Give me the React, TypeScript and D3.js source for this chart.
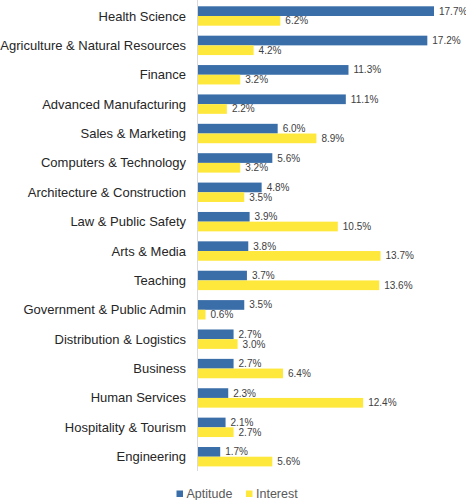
import React from "react";
import * as d3 from "d3";

const categories = [
  "Health Science",
  "Agriculture & Natural Resources",
  "Finance",
  "Advanced Manufacturing",
  "Sales & Marketing",
  "Computers & Technology",
  "Architecture & Construction",
  "Law & Public Safety",
  "Arts & Media",
  "Teaching",
  "Government & Public Admin",
  "Distribution & Logistics",
  "Business",
  "Human Services",
  "Hospitality & Tourism",
  "Engineering",
];
const aptitude = [17.7, 17.2, 11.3, 11.1, 6.0, 5.6, 4.8, 3.9, 3.8, 3.7, 3.5, 2.7, 2.7, 2.3, 2.1, 1.7];
const interest = [6.2, 4.2, 3.2, 2.2, 8.9, 3.2, 3.5, 10.5, 13.7, 13.6, 0.6, 3.0, 6.4, 12.4, 2.7, 5.6];
const seriesNames = ["Aptitude", "Interest"];
const colors = ["#3a6ea9", "#ffe83c"];

const W = 466;
const H = 500;
const axisX = 197.5;

export default function App() {
  const x = d3.scaleLinear().domain([0, 17.7]).range([axisX, 434]);
  const y = d3.scaleBand<string>().domain(categories).range([1.3, 471.4]).paddingInner(0.34).paddingOuter(0.17);
  const sub = d3.scaleBand<string>().domain(seriesNames).range([0, y.bandwidth()]);
  const font = "'Liberation Sans', Arial, sans-serif";
  return (
    <svg width={W} height={H} style={{ position: "absolute", left: 0, top: 0, background: "#fff" }} fontFamily={font}>
      {categories.map((c, i) => {
        const y0 = y(c)!;
        const vals = [aptitude[i], interest[i]];
        return (
          <g key={c}>
            <text x={186} y={y0 + y.bandwidth() / 2} dy="0.35em" textAnchor="end" fontSize={13} fill="#262626">
              {c}
            </text>
            {vals.map((v, j) => {
              const by = y0 + sub(seriesNames[j])!;
              return (
                <g key={j}>
                  <rect x={axisX} y={by} width={x(v) - axisX} height={sub.bandwidth()} fill={colors[j]} />
                  <text x={x(v) + 5} y={by + sub.bandwidth() / 2} dy="0.35em" fontSize={10} fill="#404040">
                    {v.toFixed(1) + "%"}
                  </text>
                </g>
              );
            })}
          </g>
        );
      })}
      <line x1={axisX} x2={axisX} y1={0} y2={471} stroke="#d9d9d9" strokeWidth={1} />
      <g transform="translate(176.5,490.5)">
        <rect x={0} y={0} width={6.5} height={6.5} fill={colors[0]} />
        <text x={10} y={7} fontSize={12.5} fill="#595959">{seriesNames[0]}</text>
        <rect x={69.5} y={0} width={6.5} height={6.5} fill={colors[1]} />
        <text x={79.5} y={7} fontSize={12.5} fill="#595959">{seriesNames[1]}</text>
      </g>
    </svg>
  );
}
